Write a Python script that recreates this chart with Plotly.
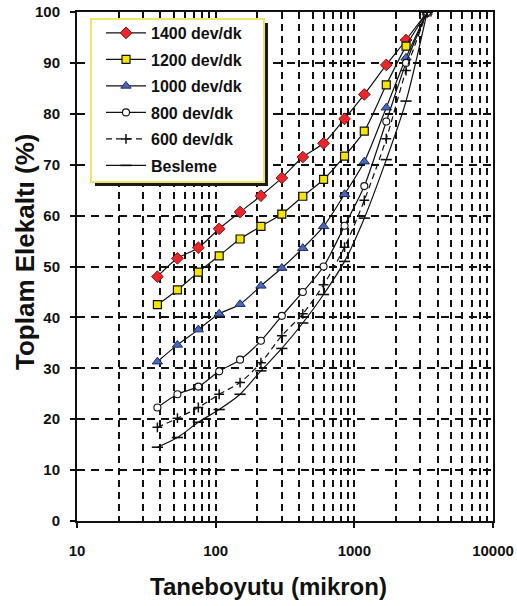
import plotly.graph_objects as go

# ---- data ----
sizes = [38, 53, 75, 106, 150, 212, 300, 425, 600, 850, 1180, 1700, 2360, 3350]
s1400 = [48.0, 51.6, 53.7, 57.4, 60.7, 63.9, 67.4, 71.5, 74.2, 79.0, 83.8, 89.6, 94.5, 100]
s1200 = [42.5, 45.4, 48.9, 52.1, 55.4, 57.9, 60.3, 63.8, 67.1, 71.7, 76.6, 85.7, 93.3, 100]
s1000 = [31.3, 34.6, 37.6, 40.7, 42.6, 46.2, 49.7, 53.6, 57.9, 64.2, 70.6, 81.2, 91.0, 100]
s800 = [22.3, 24.9, 26.4, 29.4, 31.7, 35.4, 40.3, 45.0, 50.0, 58.0, 65.8, 78.5, 90.0, 100]
s600 = [18.4, 20.2, 22.3, 24.9, 27.2, 31.1, 36.4, 40.7, 46.4, 53.8, 63.0, 75.1, 88.5, 100]
besleme = [14.5, 16.4, 19.4, 21.9, 24.9, 29.5, 33.9, 38.9, 44.5, 51.0, 59.5, 71.0, 82.5, 100]

names = ["1400 dev/dk", "1200 dev/dk", "1000 dev/dk", "800 dev/dk", "600 dev/dk", "Besleme"]
series = [s1400, s1200, s1000, s800, s600, besleme]

x_tickvals = [10, 100, 1000, 10000]
x_ticktext = ["10", "100", "1000", "10000"]
y_tickvals = list(range(0, 101, 10))
minor_x = [m * d for d in (10, 100, 1000) for m in range(2, 10)]

FONT = "Liberation Sans, Arial, sans-serif"

styles = [
    dict(marker=dict(symbol="diamond", size=9, color="#e8262c", line=dict(color="#8a1010", width=1)), dash="solid"),
    dict(marker=dict(symbol="square", size=8, color="#f5e600", line=dict(color="#111", width=1.2)), dash="solid"),
    dict(marker=dict(symbol="triangle-up", size=9, color="#4a66b8", line=dict(color="#1d2c66", width=1)), dash="solid"),
    dict(marker=dict(symbol="circle", size=7, color="white", line=dict(color="#111", width=1.1)), dash="solid"),
    dict(marker=dict(symbol="cross-thin", size=7, color="#111", line=dict(color="#111", width=1.5)), dash="6px,4px"),
    dict(marker=dict(symbol="line-ew", size=8, color="#111", line=dict(color="#111", width=1.6)), dash="solid"),
]

fig = go.Figure()
for i, (nm, ys, st) in enumerate(zip(names, series, styles)):
    fig.add_trace(go.Scatter(
        x=sizes, y=ys, name=nm, mode="lines+markers",
        line=dict(color="#111", width=1.2, dash=st["dash"], shape="spline", smoothing=0.8),
        marker=st["marker"], legendgroup=f"g{i}",
    ))

W, H = 517, 606
L, R, T, B = 77, 24, 12, 85
pw, ph = W - L - R, H - T - B


def px(xp):
    return (xp - L) / pw


def py(yp):
    return (H - B - yp) / ph


# legend box with shadow
shapes = [
    dict(type="rect", xref="paper", yref="paper", layer="above",
         x0=px(95), x1=px(268), y0=py(186), y1=py(23),
         fillcolor="#1a1a1a", line=dict(width=0)),
    dict(type="rect", xref="paper", yref="paper", layer="above",
         x0=px(91), x1=px(264), y0=py(182), y1=py(19),
         fillcolor="white", line=dict(color="#efe46a", width=2)),
]

fig.update_layout(
    width=W, height=H,
    margin=dict(l=L, r=R, t=T, b=B, autoexpand=False),
    paper_bgcolor="white", plot_bgcolor="white",
    font=dict(family=FONT, color="#111"),
    showlegend=True,
    legend=dict(x=px(101), y=py(16), xanchor="left", yanchor="top",
                bgcolor="rgba(0,0,0,0)", borderwidth=0,
                font=dict(family=FONT, size=16, color="#111", weight="bold"),
                traceorder="grouped", tracegroupgap=2.7, itemwidth=40),
    shapes=shapes,
    xaxis=dict(type="log", range=[1, 4], tickvals=x_tickvals, ticktext=x_ticktext,
               automargin=False,
               showgrid=True, gridcolor="#111", gridwidth=1.8, griddash="7px,5px",
               minor=dict(tickvals=minor_x, showgrid=True, gridcolor="#111", gridwidth=1.8,
                          griddash="7px,5px", ticks=""),
               showline=True, linecolor="#111", linewidth=2, mirror=True,
               ticks="outside", ticklen=5, tickwidth=2, tickcolor="#111",
               ticklabelstandoff=10,
               tickfont=dict(family=FONT, size=15, color="#111", weight="bold"),
               zeroline=False),
    yaxis=dict(range=[0, 100], tickvals=y_tickvals, automargin=False,
               showgrid=True, gridcolor="#111", gridwidth=1.5, griddash="8px,6px",
               showline=True, linecolor="#111", linewidth=2, mirror=True,
               ticks="outside", ticklen=5, tickwidth=2, tickcolor="#111",
               ticklabelstandoff=7,
               tickfont=dict(family=FONT, size=15, color="#111", weight="bold"),
               zeroline=False),
    xaxis2=dict(type="log", range=[1, 4], overlaying="x", anchor="y", side="bottom",
                automargin=False,
                tickvals=x_tickvals, ticks="inside", ticklen=5, tickwidth=2, tickcolor="#111",
                showticklabels=False, showgrid=False, showline=False, zeroline=False),
    yaxis2=dict(range=[0, 100], overlaying="y", anchor="x", side="left", automargin=False,
                tickvals=y_tickvals, ticks="inside", ticklen=5, tickwidth=2, tickcolor="#111",
                showticklabels=False, showgrid=False, showline=False, zeroline=False),
    annotations=[
        dict(text="Taneboyutu (mikron)", xref="paper", yref="paper",
             x=px(268), y=py(586), xanchor="center", yanchor="middle", showarrow=False,
             font=dict(family=FONT, size=24, color="#111", weight="bold")),
        dict(text="Toplam Elekaltı (%)", xref="paper", yref="paper", textangle=-90,
             x=px(25), y=py(252), xanchor="center", yanchor="middle", showarrow=False,
             font=dict(family=FONT, size=26, color="#111", weight="bold")),
    ],
)

# invisible trace to make the overlay axes render
fig.add_trace(go.Scatter(x=[10], y=[0], xaxis="x2", yaxis="y2", mode="markers",
                         marker=dict(opacity=0), showlegend=False, hoverinfo="skip"))

fig.write_html("out.html", config={"displayModeBar": False},
               post_script="document.body.style.margin='0';document.body.style.padding='0';")
